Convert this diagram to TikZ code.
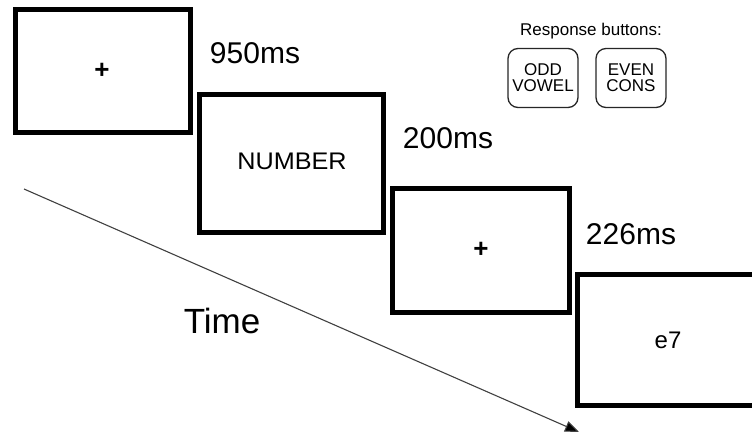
\documentclass[tikz,border=0pt]{standalone}
\usepackage{fontspec}
\setmainfont{Liberation Sans}
\usetikzlibrary{arrows.meta}
\begin{document}
\begin{tikzpicture}[x=1pt,y=-1pt,
  screen/.style={draw=black,line width=5pt,fill=white},
  btn/.style={draw=black!85,line width=1.3pt,rounded corners=10pt,fill=white,align=center,inner sep=0pt,font=\fontsize{17}{16}\selectfont},
  dur/.style={font=\fontsize{30}{30}\selectfont,inner sep=0pt}]
\useasboundingbox (0,0) rectangle (752,434);
\coordinate (ts) at (24,189);
\coordinate (te) at (579,432);
\draw[line width=1.1pt,black!75,-{Triangle[length=14pt,width=11pt,fill=black]}] (ts) -- (te);
\draw[screen] (15.5,9.5) rectangle (190.5,132.5);
\node[font=\bfseries\fontsize{26}{26}\selectfont] (p1) at (102,71) {+};
\draw[screen] (199.5,94.5) rectangle (383.5,232.5);
\node[font=\fontsize{24}{24}\selectfont,inner sep=0pt,xscale=1.05] (num) at (292,161) {NUMBER};
\draw[screen] (392.5,188.5) rectangle (569.5,312.5);
\node[font=\bfseries\fontsize{26}{26}\selectfont] (p3) at (481,250) {+};
\draw[screen] (577.5,274.5) rectangle (760,405.5);
\node[font=\fontsize{24}{24}\selectfont,inner sep=0pt] (e7) at (668,340) {e7};
\node[dur] (d1) at (255,53) {950ms};
\node[dur] (d2) at (448,138) {200ms};
\node[dur] (d3) at (631,234) {226ms};
\node[font=\fontsize{35}{35}\selectfont,inner sep=0pt] (time) at (222,321) {Time};
\node[font=\fontsize{17}{17}\selectfont,inner sep=0pt] (rb) at (591,31) {Response buttons:};
\node[btn,minimum width=70pt,minimum height=59pt] (odd) at (543,78) {ODD\\VOWEL};
\node[btn,minimum width=70pt,minimum height=59pt] (even) at (631,78) {EVEN\\CONS};
\end{tikzpicture}
\end{document}
